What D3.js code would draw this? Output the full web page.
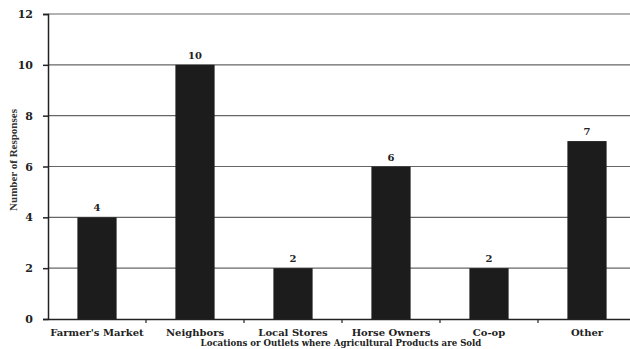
<!DOCTYPE html>
<html>
<head>
<meta charset="utf-8">
<script src="https://cdn.jsdelivr.net/npm/d3@7"></script>
<style>
  body { margin: 0; background: #fff; }
  text { font-family: "DejaVu Serif", "Liberation Serif", serif; }
</style>
</head>
<body>
<div id="chart"></div>
<script>
// data
var categories = ["Farmer's Market", "Neighbors", "Local Stores", "Horse Owners", "Co-op", "Other"];
var responses = [4, 10, 2, 6, 2, 7];
var yTicks = [0, 2, 4, 6, 8, 10, 12];

var W = 630, H = 349;
var margin = {top: 14, right: -6, bottom: 30, left: 48},
    width = W - margin.left - margin.right,
    height = H - margin.top - margin.bottom;

var svg = d3.select("#chart")
  .append("svg")
    .attr("width", W)
    .attr("height", H);

var g = svg.append("g")
    .attr("transform", "translate(" + margin.left + "," + margin.top + ")");

var x = d3.scaleBand()
  .domain(categories)
  .range([0, width])
  .paddingInner(0.6)
  .paddingOuter(0.3);

var y = d3.scaleLinear()
  .domain([0, 12])
  .range([height, 0]);

// grid lines
g.selectAll(".grid")
  .data(yTicks.slice(1))
  .enter()
  .append("line")
    .attr("x1", 0)
    .attr("x2", width)
    .attr("y1", function(d) { return y(d); })
    .attr("y2", function(d) { return y(d); })
    .attr("stroke", "#666")
    .attr("stroke-width", 1.2);

// bars
g.selectAll(".bar")
  .data(responses)
  .enter()
  .append("rect")
    .attr("x", function(d, i) { return x(categories[i]); })
    .attr("y", function(d) { return y(d); })
    .attr("width", x.bandwidth())
    .attr("height", function(d) { return height - y(d); })
    .attr("fill", "#1c1c1c");

// value labels
g.selectAll(".val")
  .data(responses)
  .enter()
  .append("text")
    .attr("x", function(d, i) { return x(categories[i]) + x.bandwidth() / 2; })
    .attr("y", function(d) { return y(d) - 6; })
    .attr("text-anchor", "middle")
    .style("font-size", "10px")
    .style("font-weight", "bold")
    .style("fill", "#222")
    .text(function(d) { return d; });

// y axis
var yAxis = g.append("g")
  .call(d3.axisLeft(y).tickValues(yTicks).tickSize(5).tickPadding(10));
yAxis.select(".domain").attr("stroke", "#222").attr("stroke-width", 1.5);
yAxis.selectAll(".tick line").attr("stroke", "#222").attr("stroke-width", 1.5);
yAxis.selectAll("text")
  .style("font-size", "11px")
  .style("font-weight", "bold")
  .style("font-family", "DejaVu Serif")
  .attr("fill", "#222");

// x axis: ticks between categories
var xAxis = g.append("g")
  .attr("transform", "translate(0," + height + ")")
  .call(d3.axisBottom(x).tickSize(0).tickPadding(10));
xAxis.select(".domain").attr("stroke", "#222").attr("stroke-width", 1.5);
xAxis.selectAll("text")
  .style("font-size", "10px")
  .style("font-weight", "bold")
  .style("font-family", "DejaVu Serif")
  .attr("fill", "#222");
xAxis.selectAll(".sep")
  .data(categories.slice(1))
  .enter()
  .append("line")
    .attr("x1", function(d) { return x(d) - x.bandwidth() * 0.75; })
    .attr("x2", function(d) { return x(d) - x.bandwidth() * 0.75; })
    .attr("y1", 0)
    .attr("y2", 4)
    .attr("stroke", "#222")
    .attr("stroke-width", 1.2);

// axis titles
svg.append("text")
  .attr("transform", "translate(17,160) rotate(-90)")
  .attr("text-anchor", "middle")
  .style("font-size", "11px")
  .style("font-family", "Liberation Serif")
  .style("font-weight", "bold")
  .style("fill", "#333")
  .text("Number of Responses");

svg.append("text")
  .attr("x", 341)
  .attr("y", H - 3)
  .attr("text-anchor", "middle")
  .style("font-size", "8.6px")
  .style("font-weight", "bold")
  .style("fill", "#222")
  .text("Locations or Outlets where Agricultural Products are Sold");
</script>
</body>
</html>
